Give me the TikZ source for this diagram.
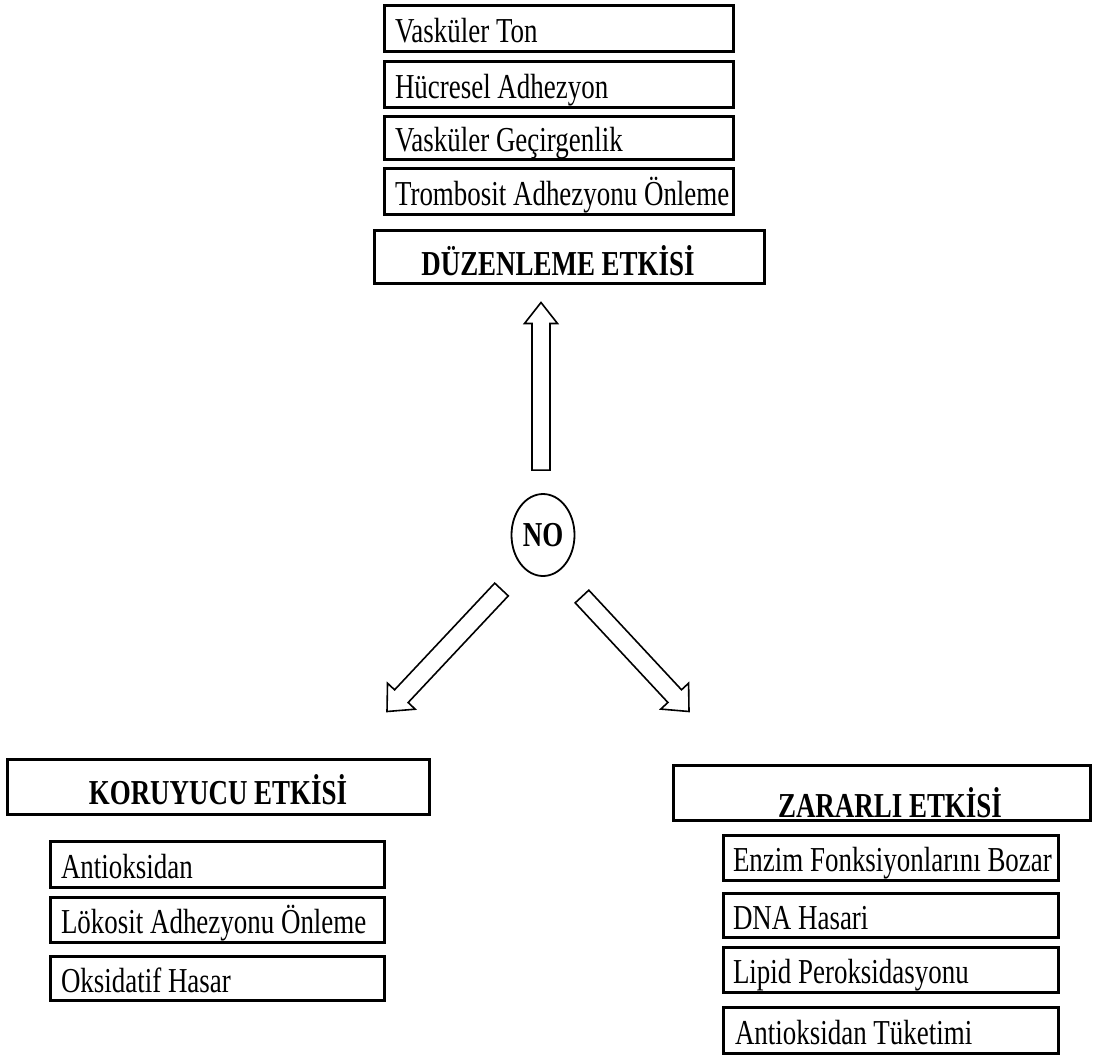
\documentclass[tikz,border=0pt]{standalone}
\usepackage{fontspec}
\setmainfont{Liberation Serif}[FakeStretch=0.77]
\usetikzlibrary{calc,shapes.geometric}
\newcommand\lbx[2]{\makebox[#1][l]{#2}}
\newcommand\hollowarr[5]{%
  \coordinate (#1C) at ($(#2)!#5!(#1)$);
  \draw[harrow] ($(#1)!#3!90:(#2)$) -- ($(#1C)!#3!90:(#2)$) -- ($(#1C)!#4!90:(#2)$) -- (#2)
     -- ($(#1C)!#4!-90:(#2)$) -- ($(#1C)!#3!-90:(#2)$) -- ($(#1)!#3!-90:(#2)$) -- cycle;}
\begin{document}
\begin{tikzpicture}[x=1pt,y=-1pt,
  box/.style={draw, line width=3pt, inner sep=0pt, font=\fontsize{35}{40}\selectfont, anchor=center},
  item/.style={box, inner xsep=11pt, text height=30pt, text depth=2pt},
  head/.style={box, font=\fontsize{35}{40}\selectfont\bfseries, text height=37pt, text depth=0pt},
  harrow/.style={draw, line width=1.6pt, line join=miter, fill=white}]
\useasboundingbox (0,0) rectangle (1095,1055);
% top
\node[item, minimum height=46pt] (t1) at (558.5,28) {\lbx{327pt}{Vasküler Ton}};
\node[item, minimum height=46pt] (t2) at (558.5,84) {\lbx{327pt}{Hücresel Adhezyon}};
\node[item, minimum height=43pt] (t3) at (558.5,137.5) {\lbx{327pt}{Vasküler Geçirgenlik}};
\node[item, minimum height=46pt] (t4) at (558.5,191) {\lbx{327pt}{Trombosit Adhezyonu Önleme}};
\node[head, minimum width=390pt, minimum height=53pt] (duz) at (569,256.5) {\mbox{DÜZENLEME ETKİSİ\kern22pt}};
% centre
\node[draw, ellipse, line width=1.8pt, inner sep=0pt, minimum width=63pt, minimum height=82pt,
      font=\fontsize{35}{40}\selectfont\bfseries] (no) at (543,535) {NO};
% left
\node[head, minimum width=422pt, minimum height=55pt, text height=36pt] (kor) at (218,786.5) {KORUYUCU ETKİSİ};
\node[item, minimum height=46pt] (k1) at (217,864) {\lbx{312pt}{Antioksidan}};
\node[item, minimum height=45pt] (k2) at (217,919.5) {\lbx{312pt}{Lökosit Adhezyonu Önleme}};
\node[item, minimum height=44pt] (k3) at (217,978) {\lbx{312pt}{Oksidatif Hasar}};
% right
\node[head, minimum width=417pt, minimum height=55pt, text height=49pt] (zar) at (881.5,792.5) {\mbox{\kern17pt ZARARLI ETKİSİ}};
\node[item, inner xsep=10pt, minimum height=45pt] (z1) at (890.5,857.5) {\lbx{315pt}{Enzim Fonksiyonlarını Bozar}};
\node[item, inner xsep=10pt, minimum height=44pt] (z2) at (890.5,915) {\lbx{315pt}{DNA Hasari}};
\node[item, inner xsep=10pt, minimum height=45pt] (z3) at (890.5,969.5) {\lbx{315pt}{Lipid Peroksidasyonu}};
\node[item, inner xsep=12pt, minimum height=46pt] (z4) at (890.5,1030) {\lbx{311pt}{Antioksidan Tüketimi}};
% arrows
\coordinate (uA) at ($(no.north)+(-2,-23)$);
\coordinate (uB) at ($(duz.south)+(-28,18)$);
\hollowarr{uA}{uB}{9pt}{16.5pt}{21pt}
\coordinate (lA) at (501.5,589.5);
\coordinate (lB) at ($(kor.north)+(169,-46)$);
\hollowarr{lA}{lB}{9.3pt}{19pt}{21pt}
\coordinate (rA) at (582,596.5);
\coordinate (rB) at ($(zar.north)+(-192.5,-52)$);
\hollowarr{rA}{rB}{9.3pt}{19pt}{21pt}
\end{tikzpicture}
\end{document}
